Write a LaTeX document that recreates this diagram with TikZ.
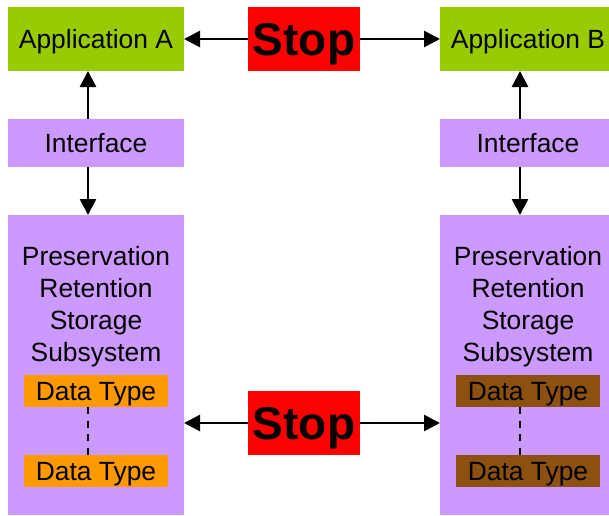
\documentclass[tikz,border=0pt]{standalone}
\usepackage{fontspec}
\setmainfont{Liberation Sans}
\usetikzlibrary{arrows.meta}
\definecolor{appgreen}{HTML}{99CC00}
\definecolor{lilac}{HTML}{CC99FF}
\definecolor{dtorange}{HTML}{FF9900}
\definecolor{dtbrown}{HTML}{8C5010}
\definecolor{stopred}{HTML}{FF0000}
\tikzset{
  box/.style={inner sep=0pt, outer sep=0pt, minimum width=176pt, text height=18.9pt, text depth=0pt, font=\fontsize{26.4}{32}\selectfont},
  appbox/.style={box, fill=appgreen, minimum height=64pt},
  ifbox/.style={box, fill=lilac, minimum height=48pt},
  presbox/.style={box, fill=lilac, minimum height=300pt},
  dtbox/.style={box, minimum width=144pt, minimum height=32pt},
  stopbox/.style={inner sep=0pt, outer sep=0pt, fill=stopred, minimum width=112pt, minimum height=64pt, text height=32.9pt, text depth=0pt, font=\fontsize{46}{50}\selectfont\bfseries},
  txt/.style={inner sep=0pt, anchor=base, font=\fontsize{26.4}{32}\selectfont},
  conn/.style={line width=2.5pt, -{Triangle[length=16pt,width=16pt]}},
  dashline/.style={line width=2.5pt, dash pattern=on 7pt off 6.5pt}
}
\begin{document}
\begin{tikzpicture}[x=1pt,y=-1pt]
\clip (0,0) rectangle (609,515);
\fill[white] (0,0) rectangle (609,515);
% top row
\node[appbox] (appA) at (96,39) {Application A};
\node[stopbox] (stop1) at (304,39) {Stop};
\node[appbox] (appB) at (528,39) {Application B};
% interfaces
\node[ifbox] (ifA) at (96,143) {Interface};
\node[ifbox] (ifB) at (528,143) {Interface};
% preservation boxes
\node[presbox] (presA) at (96,365) {};
\node[presbox] (presB) at (528,365) {};
\node[txt] (pA1) at (96,265) {Preservation};
\node[txt] (pA2) at (96,297) {Retention};
\node[txt] (pA3) at (96,329) {Storage};
\node[txt] (pA4) at (96,361) {Subsystem};
\node[txt] (pB1) at (528,265) {Preservation};
\node[txt] (pB2) at (528,297) {Retention};
\node[txt] (pB3) at (528,329) {Storage};
\node[txt] (pB4) at (528,361) {Subsystem};
% data types
\node[dtbox, fill=dtorange] (dA1) at (96,391) {Data Type};
\node[dtbox, fill=dtorange] (dA2) at (96,471) {Data Type};
\node[dtbox, fill=dtbrown] (dB1) at (528,391) {Data Type};
\node[dtbox, fill=dtbrown] (dB2) at (528,471) {Data Type};
% bottom stop
\node[stopbox] (stop2) at (304,423) {Stop};
% connectors
\draw[conn] (stop1.west) -- (appA.east);
\draw[conn] (stop1.east) -- (appB.west);
\draw[conn] ([xshift=-8pt]ifA.north) -- ([xshift=-8pt]appA.south);
\draw[conn] ([xshift=-8pt]ifA.south) -- ([xshift=-8pt]presA.north);
\draw[conn] ([xshift=-8pt]ifB.north) -- ([xshift=-8pt]appB.south);
\draw[conn] ([xshift=-8pt]ifB.south) -- ([xshift=-8pt]presB.north);
\draw[conn] (stop2.west) -- (stop2.west -| presA.east);
\draw[conn] (stop2.east) -- (stop2.east -| presB.west);
\draw[dashline] ([xshift=-8pt]dA1.south) -- ([xshift=-8pt]dA2.north);
\draw[dashline] ([xshift=-8pt]dB1.south) -- ([xshift=-8pt]dB2.north);
\end{tikzpicture}
\end{document}
